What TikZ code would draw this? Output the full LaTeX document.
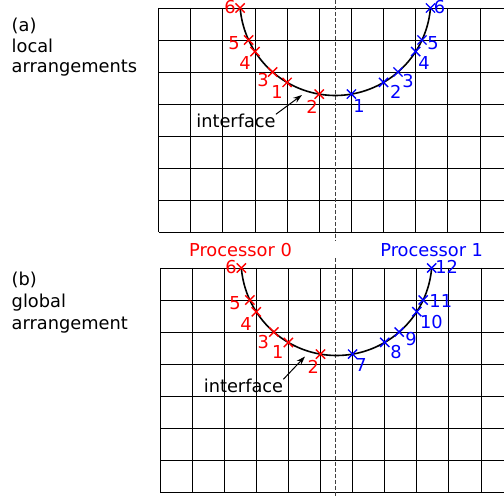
\documentclass[tikz,border=0pt]{standalone}
\usepackage{fontspec}
\setmainfont{DejaVu Sans}
\usetikzlibrary{shapes.misc,arrows.meta}
\definecolor{pred}{RGB}{255,0,0}
\definecolor{pblue}{RGB}{0,0,255}
\begin{document}
\begin{tikzpicture}[x=1pt,y=-1pt,
  gridline/.style={black, line width=0.85pt},
  sepline/.style={black!75, line width=0.8pt, dash pattern=on 4pt off 2pt},
  curve/.style={black, line width=1.6pt},
  xm/.style={draw, cross out, line width=1.4pt, minimum size=7.8pt, inner sep=0pt},
  redx/.style={xm, pred}, bluex/.style={xm, pblue},
  txt/.style={font=\fontsize{17.8}{20}\selectfont, inner sep=0pt},
  rlab/.style={txt, text=pred}, blab/.style={txt, text=pblue},
  ptr/.style={black, line width=1pt, -{Stealth[length=9pt,width=6pt]}}]
\useasboundingbox (0,0) rectangle (504,497);
% ---------- top grid
\foreach \k in {0,...,10} \draw[gridline] ({158.5+32.15*\k},8) -- ({158.5+32.15*\k},232);
\foreach \j in {0,...,7} \draw[gridline] (158.5,{8+32*\j}) -- (504,{8+32*\j});
% ---------- bottom grid
\foreach \k in {0,...,10} \draw[gridline] ({160+32.1*\k},268) -- ({160+32.1*\k},492);
\foreach \j in {0,...,7} \draw[gridline] (160,{268+32*\j}) -- (504,{268+32*\j});
% ---------- separators
\coordinate (s1) at (335.5,0); \coordinate (s2) at (335.5,241);
\coordinate (s3) at (335.5,258); \coordinate (s4) at (335.5,497);
\draw[sepline] (s1) -- (s2);
\draw[sepline] (s3) -- (s4);
% ---------- curves
\draw[curve] plot[domain=4.81:175.19, samples=90] ({335.3+95.5*cos(\x)},{95.5*sin(\x)});
\draw[curve] plot[domain=4.81:175.19, samples=90] ({336.5+95.5*cos(\x)},{260+95.5*sin(\x)});
% ---------- top markers
\node[redx] (a6) at (240.1,8) {};
\node[redx] (a5) at (248.6,40) {};
\node[redx] (a4) at (254.95,51.6) {};
\node[redx] (a3) at (272.6,72) {};
\node[redx] (a1) at (287.1,82.4) {};
\node[redx] (a2) at (319.25,94.1) {};
\node[bluex] (b1) at (351.4,94.1) {};
\node[bluex] (b2) at (383.55,82.4) {};
\node[bluex] (b3) at (398.0,72) {};
\node[bluex] (b4) at (415.7,51.5) {};
\node[bluex] (b5) at (422.0,40) {};
\node[bluex] (b6) at (430.5,8) {};
\node[rlab] (la6) at ([shift={(-10,-1)}]a6) {6};
\node[rlab] (la5) at ([shift={(-14.5,3)}]a5) {5};
\node[rlab] (la4) at ([shift={(-10,11.5)}]a4) {4};
\node[rlab] (la3) at ([shift={(-9.6,8.5)}]a3) {3};
\node[rlab] (la1) at ([shift={(-10,9.6)}]a1) {1};
\node[rlab] (la2) at ([shift={(-7.3,13)}]a2) {2};
\node[blab] (lb1) at ([shift={(7.6,12)}]b1) {1};
\node[blab] (lb2) at ([shift={(12.3,9.5)}]b2) {2};
\node[blab] (lb3) at ([shift={(10,9)}]b3) {3};
\node[blab] (lb4) at ([shift={(8.3,11.5)}]b4) {4};
\node[blab] (lb5) at ([shift={(11,3)}]b5) {5};
\node[blab] (lb6) at ([shift={(9,-1)}]b6) {6};
% ---------- bottom markers
\node[redx] (c6) at (241.3,268) {};
\node[redx] (c5) at (249.8,300) {};
\node[redx] (c4) at (256.3,311.85) {};
\node[redx] (c3) at (273.8,332) {};
\node[redx] (c1) at (288.4,342.5) {};
\node[redx] (c2) at (320.5,354.15) {};
\node[bluex] (d7) at (352.6,354.1) {};
\node[bluex] (d8) at (384.7,342.4) {};
\node[bluex] (d9) at (399.2,332) {};
\node[bluex] (d10) at (416.8,311.7) {};
\node[bluex] (d11) at (423.2,300) {};
\node[bluex] (d12) at (431.7,268) {};
\node[rlab] (lc6) at ([shift={(-10.3,-1.3)}]c6) {6};
\node[rlab] (lc5) at ([shift={(-14.8,2.7)}]c5) {5};
\node[rlab] (lc4) at ([shift={(-10.3,12.5)}]c4) {4};
\node[rlab] (lc3) at ([shift={(-10.5,10.3)}]c3) {3};
\node[rlab] (lc1) at ([shift={(-10.7,9.2)}]c1) {1};
\node[rlab] (lc2) at ([shift={(-7.2,12.5)}]c2) {2};
\node[blab] (ld7) at ([shift={(8.4,11)}]d7) {7};
\node[blab] (ld8) at ([shift={(11.3,9.3)}]d8) {8};
\node[blab] (ld9) at ([shift={(11.8,7.3)}]d9) {9};
\node[blab] (ld10) at ([shift={(14.7,10)}]d10) {10};
\node[blab] (ld11) at ([shift={(17.6,0.8)}]d11) {11};
\node[blab] (ld12) at ([shift={(15,-1.3)}]d12) {12};
% ---------- interface pointers
\node[txt, anchor=base] (ia) at (236,128) {interface};
\coordinate (ta) at (302,95);
\draw[ptr] (ia.north east) -- (ta);
\node[txt, anchor=base] (ib) at (243.5,393) {interface};
\coordinate (tb) at (305,356.5);
\draw[ptr] (ib.north east) -- (tb);
% ---------- processor titles
\node[txt, text=pred, anchor=base] (p0) at (240.5,256.7) {Processor 0};
\node[txt, text=pblue, anchor=base] (p1) at (431.7,256.3) {Processor 1};
% ---------- panel captions
\node[txt, anchor=base west] (ta1) at (11.5,31.3) {(a)};
\node[txt, anchor=base west] (ta2) at (11.5,52.3) {local};
\node[txt, anchor=base west] (ta3) at (11.5,72.8) {arrangements};
\node[txt, anchor=base west] (tb1) at (11.5,286) {(b)};
\node[txt, anchor=base west] (tb2) at (11.5,308) {global};
\node[txt, anchor=base west] (tb3) at (11.5,330) {arrangement};
\end{tikzpicture}
\end{document}
